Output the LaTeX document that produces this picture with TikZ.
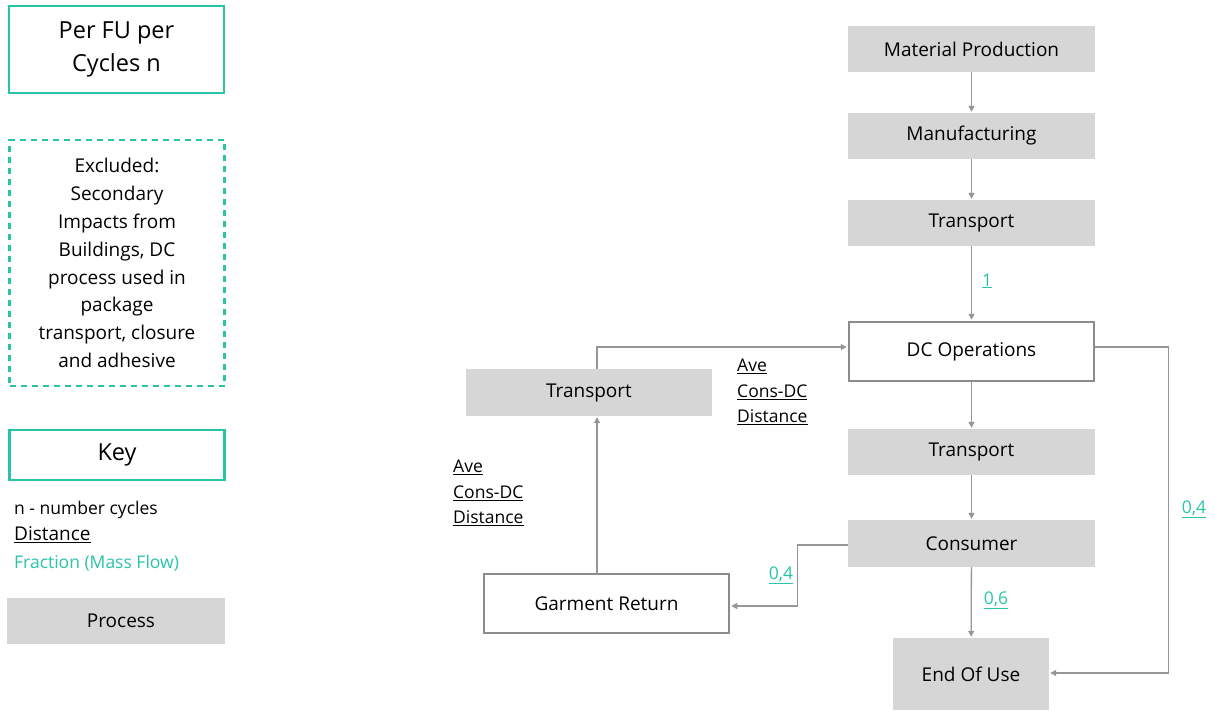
\documentclass[tikz,border=0pt]{standalone}
\usepackage{fontspec}
\setmainfont{Open Sans}
\usetikzlibrary{arrows.meta}
\definecolor{teal}{RGB}{40,196,168}
\definecolor{procgray}{RGB}{214,214,214}
\definecolor{linegray}{RGB}{150,150,150}
\definecolor{boxgray}{RGB}{140,140,140}

\begin{document}
\begin{tikzpicture}[x=1pt,y=-1pt,
  process/.style={fill=procgray, minimum width=247pt, minimum height=46pt, inner sep=0pt, font=\fontsize{19}{22}\selectfont},
  stage/.style={draw=boxgray, line width=2.5pt, fill=white, minimum width=245pt, minimum height=59pt, inner sep=0pt, font=\fontsize{19}{22}\selectfont},
  keybox/.style={draw=teal, line width=2.5pt, inner sep=0pt},
  flow/.style={draw=linegray, line width=1.3pt, -{Triangle[length=6pt,width=6pt]}, shorten >=1pt},
  frac/.style={text=teal, font=\fontsize{17.5}{20}\selectfont},
  dist/.style={align=left, font=\fontsize{17.5}{25.5}\selectfont, inner sep=0pt}
]
\useasboundingbox (0,0) rectangle (1215,711);

\node[keybox, minimum width=215pt, minimum height=87pt, align=center, font=\fontsize{23.5}{33}\selectfont] (perfu) at (116.5,49.5) {Per FU per\\Cycles n};

\node[draw=teal, line width=2.5pt, dash pattern=on 6pt off 5pt, minimum width=215pt, minimum height=246pt, inner sep=0pt, align=center, font=\fontsize{19}{27.8}\selectfont] (excluded) at (117,263) {Excluded:\\Secondary\\Impacts from\\Buildings, DC\\process used in\\package\\transport, closure\\and adhesive};

\node[keybox, minimum width=215pt, minimum height=50pt, font=\fontsize{23.5}{26}\selectfont] (key) at (117,455) {Key};

\node[anchor=west, inner sep=0pt, font=\fontsize{17.5}{20}\selectfont] (ncycles) at (14,510) {n - number cycles};
\node[anchor=west, inner sep=0pt, font=\fontsize{19}{20}\selectfont] (distance) at (14,535) {\underline{Distance}};
\node[anchor=west, inner sep=0pt, frac] (fraction) at (14,563) {Fraction (Mass Flow)};
\node[process, minimum width=218pt, text width=218pt, align=center, xshift=0pt] (process) at (116,621) {\hspace*{10pt}Process};

\node[process] (matprod) at (971.5,49) {Material Production};
\node[process] (manuf) at (971.5,136) {Manufacturing};
\node[process] (transpA) at (971.5,223) {Transport};
\node[stage] (dcops) at (971.5,351.5) {DC Operations};
\node[process] (transpB) at (971.5,452) {Transport};
\node[process, minimum height=47pt] (consumer) at (971.5,543.5) {Consumer};
\node[process, minimum width=156pt, minimum height=72pt] (endofuse) at (971,674) {End Of Use};
\node[stage] (garment) at (606.5,603.5) {Garment Return};
\node[process, minimum width=246pt, minimum height=47pt] (transpC) at (589,392.5) {Transport};

\draw[flow] (matprod) -- (manuf);
\draw[flow] (manuf) -- (transpA);
\draw[flow] (transpA) -- (dcops);
\draw[flow] (dcops) -- (transpB);
\draw[flow] (transpB) -- (consumer);
\draw[flow] (consumer) -- (endofuse);
\draw[flow] ([yshift=4.5pt]dcops.east) -- ++(73,0) |- ([yshift=1pt]endofuse.east);
\draw[flow] ([yshift=-1.5pt]consumer.west) -- ++(-50,0) |- ([yshift=-2.5pt]garment.east);
\draw[flow] ([xshift=-9.5pt]garment.north) -- ([xshift=8pt]transpC.south);
\draw[flow] ([xshift=8pt]transpC.north) |- ([yshift=4.5pt]dcops.west);

\node[frac] (fracA) at (987,281) {\underline{1}};
\node[frac] (fracB) at (1194,509) {\underline{0,4}};
\node[frac] (fracC) at (781,575) {\underline{0,4}};
\node[frac] (fracD) at (996,600) {\underline{0,6}};

\node[dist, anchor=north west] (distA) at (737,359) {\underline{Ave}\\\underline{Cons-DC}\\\underline{Distance}};
\node[dist, anchor=north west] (distB) at (453,460) {\underline{Ave}\\\underline{Cons-DC}\\\underline{Distance}};

\end{tikzpicture}
\end{document}
